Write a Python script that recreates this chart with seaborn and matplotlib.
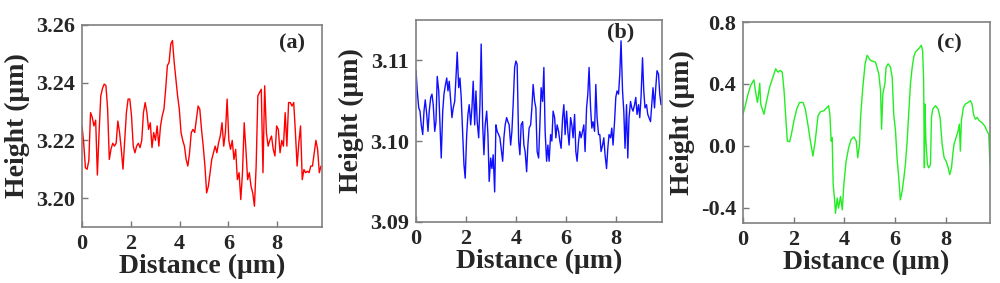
import matplotlib
matplotlib.use("Agg")
import matplotlib.pyplot as plt
import seaborn as sns

# (a) red profile
DIST_A = [
    0.0, 0.07, 0.14, 0.21, 0.28, 0.35, 0.42, 0.49, 0.56, 0.63,
    0.7, 0.77, 0.84, 0.91, 0.98, 1.05, 1.12, 1.19, 1.26, 1.33,
    1.4, 1.47, 1.54, 1.61, 1.68, 1.75, 1.82, 1.89, 1.96, 2.03,
    2.1, 2.17, 2.24, 2.31, 2.38, 2.45, 2.52, 2.59, 2.66, 2.73,
    2.8, 2.87, 2.94, 3.01, 3.08, 3.15, 3.22, 3.29, 3.36, 3.43,
    3.5, 3.57, 3.64, 3.71, 3.78, 3.85, 3.92, 3.99, 4.06, 4.13,
    4.2, 4.27, 4.34, 4.41, 4.48, 4.55, 4.62, 4.69, 4.76, 4.83,
    4.9, 4.97, 5.04, 5.11, 5.18, 5.25, 5.32, 5.39, 5.46, 5.53,
    5.6, 5.67, 5.74, 5.81, 5.88, 5.95, 6.02, 6.09, 6.16, 6.23,
    6.3, 6.37, 6.44, 6.51, 6.58, 6.65, 6.72, 6.79, 6.86, 6.93,
    7.0, 7.07, 7.14, 7.21, 7.28, 7.35, 7.42, 7.49, 7.56, 7.63,
    7.7, 7.77, 7.84, 7.91, 7.98, 8.05, 8.12, 8.19, 8.26, 8.33,
    8.4, 8.47, 8.54, 8.61, 8.68, 8.75, 8.82, 8.89, 8.96, 9.03,
    9.1, 9.17, 9.24, 9.31, 9.38, 9.45, 9.52, 9.59, 9.66, 9.73,
    9.8,
]
HEIGHT_A = [
    3.225, 3.219, 3.2105, 3.210, 3.213, 3.2296, 3.228, 3.225, 3.227, 3.208,
    3.2227, 3.2354, 3.238, 3.2395, 3.239, 3.231, 3.2134, 3.217, 3.219, 3.218,
    3.219, 3.2267, 3.2227, 3.217, 3.210, 3.220, 3.2296, 3.2343, 3.2343, 3.2285,
    3.218, 3.2157, 3.218, 3.219, 3.2175, 3.220, 3.2296, 3.2331, 3.2296, 3.2238,
    3.2261, 3.2175, 3.2227, 3.220, 3.225, 3.218, 3.225, 3.2285, 3.2308, 3.2377,
    3.2459, 3.247, 3.2534, 3.2546, 3.247, 3.2412, 3.2354, 3.2308, 3.2227, 3.220,
    3.218, 3.2134, 3.2111, 3.2157, 3.2227, 3.2238, 3.2227, 3.2273, 3.2319, 3.2308,
    3.2238, 3.218, 3.2111, 3.2018, 3.2041, 3.2088, 3.2134, 3.2157, 3.218,
    3.2157, 3.2192, 3.2215, 3.2261, 3.218, 3.2227, 3.2343, 3.220, 3.2169, 3.220,
    3.2134, 3.2169, 3.2064, 3.2088, 3.1995, 3.2088, 3.2261, 3.2169, 3.2064, 3.2088,
    3.2041, 3.2018, 3.1972, 3.2111, 3.2354, 3.2366, 3.2377, 3.2088, 3.2389, 3.2227,
    3.218, 3.220, 3.2215, 3.2169, 3.2146, 3.225, 3.2238, 3.2157, 3.220,
    3.218, 3.2296, 3.218, 3.2331, 3.2331, 3.2319, 3.2331, 3.2227, 3.2111, 3.2192,
    3.225, 3.2064, 3.2099, 3.2088, 3.2093, 3.2088, 3.2111, 3.2111, 3.2157, 3.220,
    3.2169, 3.2088, 3.2111,
]

# (b) blue profile
DIST_B = [
    0.0, 0.05, 0.11, 0.16, 0.21, 0.27, 0.32, 0.37, 0.43, 0.48, 0.53, 0.59, 0.64, 0.69, 0.75,
    0.8, 0.85, 0.91, 0.96, 1.01, 1.07, 1.12, 1.17, 1.23, 1.28, 1.33, 1.39, 1.44, 1.49, 1.55,
    1.6, 1.65, 1.71, 1.76, 1.81, 1.87, 1.92, 1.97, 2.03, 2.08, 2.13, 2.19, 2.24, 2.29, 2.35,
    2.4, 2.45, 2.51, 2.56, 2.61, 2.67, 2.72, 2.77, 2.83, 2.88, 2.93, 2.99, 3.04, 3.09, 3.15,
    3.2, 3.25, 3.31, 3.36, 3.41, 3.47, 3.52, 3.57, 3.63, 3.68, 3.73, 3.79, 3.84, 3.89, 3.95,
    4.0, 4.05, 4.11, 4.16, 4.21, 4.27, 4.32, 4.37, 4.43, 4.48, 4.53, 4.59, 4.64, 4.69, 4.75,
    4.8, 4.85, 4.91, 4.96, 5.01, 5.07, 5.12, 5.17, 5.23, 5.28, 5.33, 5.39, 5.44, 5.49, 5.55,
    5.6, 5.65, 5.71, 5.76, 5.81, 5.87, 5.92, 5.97, 6.03, 6.08, 6.13, 6.19, 6.24, 6.29, 6.35,
    6.4, 6.45, 6.51, 6.56, 6.61, 6.67, 6.72, 6.77, 6.83, 6.88, 6.93, 6.99, 7.04, 7.09, 7.15,
    7.2, 7.25, 7.31, 7.36, 7.41, 7.47, 7.52, 7.57, 7.63, 7.68, 7.73, 7.79, 7.84, 7.89, 7.95,
    8.0, 8.05, 8.11, 8.16, 8.21, 8.27, 8.32, 8.37, 8.43, 8.48, 8.53, 8.59, 8.64, 8.69, 8.75,
    8.8, 8.85, 8.91, 8.96, 9.01, 9.07, 9.12, 9.17, 9.23, 9.28, 9.33, 9.39, 9.44, 9.49, 9.55,
    9.6, 9.65, 9.71, 9.76, 9.81,
]
HEIGHT_B = [
    3.1087, 3.1062, 3.1041, 3.1037, 3.1020, 3.1008, 3.1037, 3.1051, 3.1033, 3.1012,
    3.1037, 3.1054, 3.1058, 3.1045, 3.1012, 3.1024, 3.1080, 3.1062, 3.1020, 3.0979,
    3.1037, 3.1058, 3.1068, 3.1078, 3.1062, 3.1074, 3.1049, 3.1029, 3.1041, 3.1049,
    3.1078, 3.1110, 3.1066, 3.1078, 3.1054, 3.1008, 3.0971, 3.0954, 3.1008, 3.1033,
    3.1045, 3.1020, 3.1041, 3.1074, 3.1020, 3.1062, 3.1024, 3.1004, 3.1045, 3.1120,
    3.1020, 3.0983, 3.1020, 3.1037, 3.1008, 3.0950, 3.0979, 3.0966, 3.0983, 3.0937,
    3.1020, 3.1012, 3.1008, 3.1004, 3.0991, 3.0975, 3.1004, 3.1020, 3.1029, 3.1024,
    3.1020, 3.0995, 3.1012, 3.1045, 3.1091, 3.1099, 3.1095, 3.1000, 3.0983, 3.1020,
    3.1024, 3.0995, 3.0987, 3.0962, 3.0995, 3.1016, 3.1020, 3.1041, 3.1070, 3.1049,
    3.1041, 3.0987, 3.0979,
    3.1020, 3.1066, 3.1049, 3.1091, 3.1012, 3.0975, 3.0995, 3.0975, 3.1008, 3.1000,
    3.1037, 3.1029, 3.1004, 3.1020, 3.1012, 3.1000, 3.0991, 3.1029, 3.1045, 3.1008,
    3.1037, 3.1012, 3.0995, 3.1029, 3.1020, 3.1004, 3.1033, 3.0987, 3.0975, 3.1000,
    3.1012, 3.1004, 3.1012, 3.1020, 3.0987, 3.1041, 3.1058, 3.1091, 3.1041, 3.1016,
    3.1024, 3.1012, 3.1070, 3.1029, 3.1008, 3.1008, 3.0987, 3.0995, 3.1004, 3.0983,
    3.0966, 3.0991, 3.1008, 3.1004, 3.1016, 3.0995, 3.1024, 3.1054, 3.1062, 3.1058,
    3.1083, 3.1124, 3.1062, 3.1037, 3.0991, 3.1045, 3.0979, 3.1029, 3.1049, 3.1041,
    3.1037, 3.1045, 3.1054, 3.1033, 3.1045, 3.1029, 3.1054, 3.1103, 3.1062, 3.1041,
    3.1045, 3.1033, 3.1029, 3.1024, 3.1045, 3.1066, 3.1041, 3.1066, 3.1087, 3.1083,
    3.1058, 3.1045,
]

# (c) green profile
DIST_C = [
    0.0, 0.09, 0.2, 0.3, 0.43, 0.5, 0.57, 0.62, 0.66, 0.7,
    0.76, 0.83, 0.92, 1.05, 1.18, 1.29, 1.38, 1.47, 1.55, 1.62,
    1.68, 1.75, 1.84, 1.91, 2.01, 2.12, 2.23, 2.37, 2.46, 2.56,
    2.65, 2.76, 2.85, 2.96, 3.06, 3.19, 3.29, 3.38, 3.43, 3.48,
    3.52, 3.56, 3.61, 3.65, 3.72, 3.77, 3.85, 3.92, 3.98, 4.07,
    4.17, 4.27, 4.38, 4.47, 4.53, 4.6, 4.64, 4.73, 4.82, 4.9,
    5.03, 5.23, 5.36, 5.43, 5.47, 5.52, 5.6, 5.65, 5.73, 5.82,
    5.89, 5.95, 6.02, 6.08, 6.15, 6.21, 6.28, 6.35, 6.41, 6.48,
    6.54, 6.61, 6.68, 6.74, 6.81, 6.94, 7.04, 7.09, 7.13, 7.16,
    7.18, 7.22, 7.28, 7.33, 7.4, 7.44, 7.49, 7.6, 7.7, 7.78,
    7.86, 7.94, 8.02, 8.1, 8.16, 8.23, 8.28, 8.33, 8.41, 8.49,
    8.54, 8.58, 8.62, 8.7, 8.78, 8.88, 8.98, 9.04, 9.1, 9.17,
    9.24, 9.33, 9.43, 9.54, 9.63, 9.7, 9.75,
]
HEIGHT_C = [
    0.204, 0.259, 0.335, 0.389, 0.426, 0.346, 0.28, 0.335, 0.404, 0.27,
    0.237, 0.204, 0.28, 0.378, 0.443, 0.498, 0.476, 0.487, 0.476, 0.357,
    0.204, 0.03, 0.026, 0.074, 0.161, 0.237, 0.28, 0.28, 0.237, 0.139,
    0.041, -0.067, 0.03, 0.193, 0.22, 0.226, 0.243, 0.259, 0.204, 0.03,
    0.052, -0.252, -0.339, -0.437, -0.339, -0.404, -0.328, -0.415, -0.252, -0.1,
    -0.013, 0.041, 0.057, 0.03, -0.078, 0.009, 0.183, 0.378, 0.53, 0.585,
    0.552, 0.541, 0.465, 0.357, 0.107, 0.335, 0.4, 0.509, 0.53, 0.509,
    0.443, 0.204, 0.096, -0.078, -0.209, -0.35, -0.296, -0.209, -0.122, 0.03,
    0.204, 0.4, 0.509, 0.574, 0.607, 0.628, 0.65, 0.617, 0.422, -0.143,
    0.27, 0.03, -0.122, -0.143, -0.122, 0.183, 0.237, 0.259, 0.237, 0.183,
    0.009, -0.078, -0.1, -0.143, -0.187, -0.143, -0.057, 0.009, 0.052, 0.096,
    0.139, -0.035, 0.161, 0.248, 0.27, 0.28, 0.291, 0.27, 0.204, 0.172,
    0.183, 0.161, 0.15, 0.128, 0.096, 0.074, -0.122,
]

X_TICKS = [0, 2, 4, 6, 8]
PANELS = [
    # dist, height, colour, label, ylim, yticks, fmt, xmax, axes rect, label pos
    (DIST_A, HEIGHT_A, "#ff0000", "(a)", (3.19, 3.26), [3.20, 3.22, 3.24, 3.26], "{:.2f}",
     9.84, [0.082, 0.198, 0.240, 0.714], (0.875, 0.91)),
    (DIST_B, HEIGHT_B, "#1010ff", "(b)", (3.09, 3.115), [3.09, 3.10, 3.11], "{:.2f}",
     9.85, [0.416, 0.216, 0.246, 0.714], (0.83, 0.935)),
    (DIST_C, HEIGHT_C, "#22ee22", "(c)", (-0.5, 0.8), [-0.4, 0.0, 0.4, 0.8], "{:.1f}",
     9.75, [0.743, 0.212, 0.247, 0.710], (0.835, 0.895)),
]

sns.set_style("ticks")
plt.rcParams["font.family"] = ["Liberation Serif", "DejaVu Serif"]
plt.rcParams["font.weight"] = "bold"
plt.rcParams["axes.unicode_minus"] = False

fig = plt.figure(figsize=(10, 2.83), dpi=100)

for dist, height, color, tag, ylim, yticks, fmt, xmax, rect, tag_pos in PANELS:
    ax = fig.add_axes(rect)
    sns.lineplot(x=dist, y=height, ax=ax, color=color, lw=1.0,
                 estimator=None, sort=False)
    ax.set_xlim(0, xmax)
    ax.set_ylim(*ylim)
    ax.set_xticks(X_TICKS)
    ax.set_xticklabels([str(t) for t in X_TICKS])
    ax.set_yticks(yticks)
    ax.set_yticklabels([fmt.format(t) for t in yticks])
    ax.tick_params(direction="in", length=4, width=1, color="#777777",
                   labelsize=16, pad=5)
    for lab in ax.get_xticklabels() + ax.get_yticklabels():
        lab.set_fontweight("bold")
    for sp in ax.spines.values():
        sp.set_color("#808080")
        sp.set_linewidth(1.2)
    ax.set_xlabel("Distance (\u03bcm)", fontsize=20, fontweight="bold", labelpad=0)
    ax.set_ylabel("Height (\u03bcm)", fontsize=20, fontweight="bold", labelpad=4)
    ax.text(tag_pos[0], tag_pos[1], tag, transform=ax.transAxes, ha="center",
            va="center", fontsize=16, fontweight="bold")

fig.savefig("out.png", dpi=100)
